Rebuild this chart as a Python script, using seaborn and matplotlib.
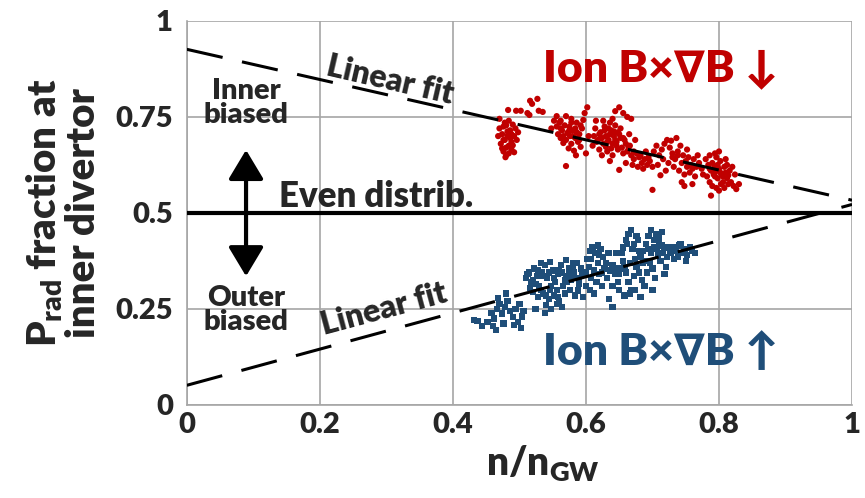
import pandas as pd
import seaborn as sns
import matplotlib.pyplot as plt

# Ion BxgradB down (red cloud)
red_n = [
    0.470, 0.474, 0.478, 0.472, 0.480, 0.476, 0.484, 0.488, 0.482, 0.486, 0.490, 0.494, 0.478, 0.470,
    0.484, 0.492, 0.496, 0.488, 0.480, 0.474, 0.490, 0.498, 0.468, 0.476, 0.486, 0.482, 0.492, 0.479,
    0.483, 0.495, 0.502, 0.516, 0.519, 0.527, 0.529, 0.535, 0.512, 0.515,
    0.552, 0.556, 0.560, 0.564, 0.568, 0.572, 0.558, 0.562, 0.570, 0.576, 0.580, 0.584, 0.588, 0.578,
    0.566, 0.574, 0.582, 0.590, 0.594, 0.586, 0.578, 0.570, 0.598, 0.602, 0.596, 0.604, 0.592, 0.556,
    0.548, 0.585, 0.600, 0.570, 0.562, 0.575, 0.590,
    0.612, 0.618, 0.622, 0.626, 0.630, 0.634, 0.638, 0.642, 0.646, 0.650, 0.628, 0.636, 0.644, 0.652,
    0.656, 0.660, 0.664, 0.620, 0.632, 0.640, 0.648, 0.656, 0.662, 0.668, 0.672, 0.676, 0.680, 0.684,
    0.688, 0.692, 0.670, 0.678, 0.686, 0.696, 0.700, 0.644, 0.650, 0.656, 0.662, 0.668, 0.640, 0.615,
    0.624, 0.636, 0.660, 0.610, 0.650, 0.665, 0.674, 0.690,
    0.702, 0.706, 0.710, 0.714, 0.718, 0.722, 0.726, 0.730, 0.734, 0.738, 0.742, 0.746, 0.750, 0.754,
    0.758, 0.762, 0.766, 0.770, 0.774, 0.716, 0.724, 0.732, 0.740, 0.748, 0.756, 0.764, 0.744, 0.748,
    0.760, 0.708, 0.720, 0.712, 0.700, 0.728, 0.736, 0.752, 0.768, 0.776,
    0.780, 0.784, 0.786, 0.788, 0.790, 0.792, 0.794, 0.796, 0.798, 0.800, 0.802, 0.804, 0.806, 0.808,
    0.810, 0.812, 0.814, 0.816, 0.782, 0.786, 0.790, 0.796, 0.800, 0.808, 0.818, 0.822, 0.826, 0.830,
    0.794, 0.800, 0.810, 0.820, 0.824, 0.788, 0.803, 0.795, 0.812,
    0.614, 0.620, 0.624, 0.628, 0.632, 0.636, 0.640, 0.644, 0.648, 0.652, 0.626, 0.634, 0.642, 0.616,
    0.630, 0.638, 0.646, 0.654, 0.658, 0.666, 0.672, 0.682, 0.694, 0.562, 0.566, 0.574, 0.580, 0.586,
    0.592, 0.568, 0.578, 0.584, 0.730, 0.738, 0.744, 0.752, 0.760, 0.794, 0.798, 0.806, 0.814, 0.802,
    0.786, 0.476, 0.484, 0.480, 0.488,
]
red_frac = [
    0.720, 0.705, 0.690, 0.680, 0.670, 0.660, 0.655, 0.665, 0.700, 0.715, 0.730, 0.720, 0.735, 0.745,
    0.740, 0.700, 0.690, 0.685, 0.650, 0.668, 0.676, 0.710, 0.700, 0.725, 0.695, 0.712, 0.658, 0.645,
    0.768, 0.766, 0.766, 0.792, 0.784, 0.797, 0.766, 0.763, 0.760, 0.755,
    0.740, 0.725, 0.735, 0.715, 0.728, 0.708, 0.705, 0.695, 0.690, 0.700, 0.715, 0.695, 0.685, 0.680,
    0.682, 0.668, 0.662, 0.705, 0.720, 0.735, 0.745, 0.752, 0.760, 0.775, 0.742, 0.700, 0.672, 0.752,
    0.720, 0.650, 0.655, 0.622, 0.740, 0.724, 0.690,
    0.700, 0.690, 0.710, 0.680, 0.700, 0.690, 0.715, 0.700, 0.685, 0.705, 0.725, 0.735, 0.728, 0.720,
    0.695, 0.680, 0.670, 0.665, 0.660, 0.650, 0.665, 0.655, 0.660, 0.650, 0.640, 0.655, 0.645, 0.630,
    0.640, 0.625, 0.625, 0.620, 0.615, 0.635, 0.620, 0.765, 0.775, 0.760, 0.750, 0.745, 0.745, 0.740,
    0.650, 0.635, 0.630, 0.675, 0.612, 0.705, 0.690, 0.660,
    0.660, 0.675, 0.650, 0.665, 0.680, 0.690, 0.670, 0.655, 0.640, 0.660, 0.675, 0.650, 0.635, 0.645,
    0.625, 0.640, 0.620, 0.630, 0.615, 0.640, 0.630, 0.620, 0.610, 0.600, 0.605, 0.595, 0.580, 0.570,
    0.575, 0.625, 0.610, 0.598, 0.560, 0.688, 0.695, 0.665, 0.650, 0.600,
    0.640, 0.625, 0.650, 0.610, 0.630, 0.600, 0.620, 0.645, 0.590, 0.615, 0.635, 0.600, 0.580, 0.620,
    0.605, 0.590, 0.575, 0.610, 0.595, 0.580, 0.570, 0.565, 0.558, 0.565, 0.580, 0.570, 0.562, 0.575,
    0.655, 0.660, 0.640, 0.620, 0.600, 0.545, 0.575, 0.608, 0.625,
    0.720, 0.705, 0.695, 0.715, 0.685, 0.705, 0.680, 0.690, 0.710, 0.695, 0.740, 0.720, 0.712, 0.685,
    0.672, 0.668, 0.675, 0.670, 0.690, 0.675, 0.660, 0.650, 0.645, 0.720, 0.700, 0.712, 0.700, 0.710,
    0.728, 0.690, 0.735, 0.720, 0.645, 0.650, 0.630, 0.620, 0.615, 0.595, 0.625, 0.595, 0.598, 0.605,
    0.615, 0.690, 0.675, 0.728, 0.705,
]

# Ion BxgradB up (blue cloud)
blue_n = [
    0.432, 0.437, 0.444, 0.452, 0.458, 0.462, 0.466, 0.470, 0.474, 0.478, 0.482, 0.486, 0.490, 0.494,
    0.498, 0.502, 0.504, 0.492, 0.476, 0.465, 0.480, 0.468, 0.500, 0.506, 0.460,
    0.510, 0.514, 0.518, 0.522, 0.526, 0.530, 0.534, 0.538, 0.542, 0.546, 0.550, 0.554, 0.558, 0.562,
    0.566, 0.570, 0.574, 0.578, 0.582, 0.586, 0.590, 0.594, 0.520, 0.528, 0.536, 0.544, 0.552, 0.560,
    0.568, 0.576, 0.584, 0.540, 0.548, 0.556, 0.564, 0.532, 0.546, 0.570, 0.580, 0.516, 0.524, 0.588,
    0.596, 0.600, 0.538, 0.556, 0.572,
    0.602, 0.606, 0.610, 0.614, 0.618, 0.622, 0.626, 0.630, 0.604, 0.612, 0.620, 0.628, 0.608, 0.616,
    0.624, 0.632, 0.606, 0.612, 0.600, 0.634, 0.618,
    0.636, 0.640, 0.644, 0.648, 0.652, 0.656, 0.660, 0.664, 0.668, 0.672, 0.676, 0.680, 0.684, 0.688,
    0.692, 0.696, 0.700, 0.704, 0.708, 0.712, 0.716, 0.720, 0.724, 0.728, 0.656, 0.660, 0.664, 0.668,
    0.672, 0.676, 0.680, 0.690, 0.694, 0.698, 0.702, 0.706, 0.710, 0.714, 0.650, 0.658, 0.666, 0.674,
    0.646, 0.640, 0.732, 0.686, 0.718, 0.700, 0.682,
    0.730, 0.735, 0.740, 0.744, 0.748, 0.752, 0.756, 0.760, 0.764, 0.738, 0.750, 0.742,
    0.635, 0.640,
    0.512, 0.520, 0.528, 0.536, 0.544, 0.552, 0.560, 0.568, 0.576, 0.584, 0.592, 0.524, 0.532, 0.548,
    0.564, 0.580, 0.540, 0.558, 0.574, 0.590, 0.642, 0.650, 0.658, 0.666, 0.674, 0.682, 0.690, 0.698,
    0.706, 0.714, 0.722, 0.654, 0.662, 0.670, 0.678, 0.686, 0.694, 0.702, 0.710, 0.718, 0.726, 0.608,
    0.616, 0.624, 0.620,
]
blue_frac = [
    0.222, 0.218, 0.205, 0.215, 0.240, 0.225, 0.250, 0.262, 0.238, 0.255, 0.270, 0.245, 0.228, 0.250,
    0.215, 0.200, 0.230, 0.208, 0.212, 0.195, 0.290, 0.278, 0.262, 0.245, 0.205,
    0.330, 0.345, 0.320, 0.355, 0.335, 0.310, 0.345, 0.365, 0.330, 0.300, 0.350, 0.320, 0.340, 0.365,
    0.310, 0.335, 0.355, 0.325, 0.345, 0.370, 0.315, 0.340, 0.295, 0.280, 0.290, 0.275, 0.285, 0.270,
    0.290, 0.300, 0.285, 0.260, 0.250, 0.262, 0.255, 0.370, 0.372, 0.378, 0.368, 0.305, 0.250, 0.298,
    0.280, 0.310, 0.240, 0.300, 0.320,
    0.380, 0.400, 0.410, 0.395, 0.415, 0.405, 0.385, 0.370, 0.360, 0.350, 0.340, 0.355, 0.330, 0.320,
    0.310, 0.330, 0.300, 0.290, 0.345, 0.395, 0.370,
    0.350, 0.365, 0.340, 0.320, 0.355, 0.375, 0.345, 0.320, 0.300, 0.335, 0.360, 0.345, 0.325, 0.310,
    0.345, 0.370, 0.355, 0.330, 0.390, 0.375, 0.395, 0.360, 0.410, 0.395, 0.410, 0.430, 0.445, 0.455,
    0.420, 0.440, 0.400, 0.420, 0.440, 0.455, 0.430, 0.445, 0.420, 0.450, 0.300, 0.285, 0.290, 0.300,
    0.395, 0.310, 0.380, 0.370, 0.340, 0.300, 0.280,
    0.410, 0.400, 0.415, 0.395, 0.405, 0.390, 0.410, 0.400, 0.395, 0.385, 0.375, 0.420,
    0.275, 0.255,
    0.340, 0.325, 0.350, 0.335, 0.345, 0.330, 0.350, 0.325, 0.340, 0.330, 0.355, 0.315, 0.300, 0.310,
    0.345, 0.355, 0.285, 0.280, 0.345, 0.330, 0.355, 0.340, 0.360, 0.370, 0.380, 0.385, 0.375, 0.395,
    0.405, 0.415, 0.385, 0.395, 0.420, 0.405, 0.430, 0.400, 0.405, 0.410, 0.435, 0.410, 0.400, 0.380,
    0.395, 0.345, 0.390,
]

# linear fits, end values at n/nGW = 0 and 1
fit_n = [0.0, 1.0]
red_fit = [0.926, 0.533]
blue_fit = [0.051, 0.522]

x_ticks = [0, 0.2, 0.4, 0.6, 0.8, 1]
x_labels = ['0', '0.2', '0.4', '0.6', '0.8', '1']
y_ticks = [0, 0.25, 0.5, 0.75, 1]
y_labels = ['0', '0.25', '0.5', '0.75', '1']

RED = '#C00000'
BLUE = '#1F4E79'
GRID = '#A6A6A6'
W = 'heavy'

sns.set_theme(style='whitegrid')
plt.rcParams['font.family'] = ['Lato', 'DejaVu Sans']
plt.rcParams['font.weight'] = W

df = pd.concat([
    pd.DataFrame({'n': red_n, 'frac': red_frac, 'field': 'down'}),
    pd.DataFrame({'n': blue_n, 'frac': blue_frac, 'field': 'up'}),
])

fig = plt.figure(figsize=(8.65, 4.98), dpi=100)
ax = fig.add_axes([0.216, 0.187, 0.769, 0.771])

sns.scatterplot(data=df, x='n', y='frac', hue='field', style='field',
                palette={'down': RED, 'up': BLUE}, markers={'down': 'o', 'up': 's'},
                s=20, linewidth=0, legend=False, ax=ax, zorder=3)

dash = (0, (12, 6.5))
sns.lineplot(x=fit_n, y=red_fit, color='black', lw=2.2, linestyle=dash, ax=ax, zorder=4)
sns.lineplot(x=fit_n, y=blue_fit, color='black', lw=2.2, linestyle=dash, ax=ax, zorder=4)
ax.axhline(0.5, color='black', lw=3, zorder=4)

ax.set_xlim(0, 1)
ax.set_ylim(0, 1)
ax.set_xticks(x_ticks, x_labels, fontsize=21, fontweight=W)
ax.set_yticks(y_ticks, y_labels, fontsize=21, fontweight=W)
ax.grid(True, color=GRID, lw=1.2)
ax.tick_params(axis='y', direction='out', length=7, width=1.2, color=GRID, pad=3)
ax.tick_params(axis='x', direction='out', length=5, width=1.2, color=GRID, pad=0)
for s in ['top', 'right']:
    ax.spines[s].set_visible(False)
for s in ['left', 'bottom']:
    ax.spines[s].set_color(GRID)
    ax.spines[s].set_linewidth(1.2)
for t in ax.yaxis.get_major_ticks():
    if t.get_loc() == 0.5:
        t.tick1line.set_color('black')
        t.tick1line.set_markeredgewidth(3)

ax.set_xlabel('n/n$_\\mathregular{GW}$', fontsize=28, fontweight=W)
ax.xaxis.set_label_coords(0.535, -0.1)
ax.set_ylabel('P$_\\mathregular{rad}$ fraction at\ninner divertor', fontsize=29,
              fontweight=W, linespacing=1.0)
ax.yaxis.set_label_coords(-0.128, 0.5)

ax.text(0.305, 0.846, 'Linear fit', fontsize=23, fontweight=W, rotation=-13,
        ha='center', va='center')
ax.text(0.297, 0.25, 'Linear fit', fontsize=23, fontweight=W, rotation=15,
        ha='center', va='center')
ax.text(0.284, 0.542, 'Even distrib.', fontsize=25, fontweight=W, ha='center', va='center')
ax.text(0.089, 0.786, 'Inner\nbiased', fontsize=21, fontweight=W, ha='center',
        va='center', linespacing=0.9)
ax.text(0.089, 0.247, 'Outer\nbiased', fontsize=21, fontweight=W, ha='center',
        va='center', linespacing=0.9)
ax.text(0.712, 0.876, 'Ion B×∇B ↓', fontsize=32, fontweight=W, color=RED,
        ha='center', va='center')
ax.text(0.712, 0.138, 'Ion B×∇B ↑', fontsize=32, fontweight=W, color=BLUE,
        ha='center', va='center')

arrow = dict(arrowstyle='-|>,head_length=1.0,head_width=0.6', color='black', lw=3,
             shrinkA=0, shrinkB=0, mutation_scale=18)
ax.annotate('', xy=(0.089, 0.664), xytext=(0.089, 0.5), arrowprops=arrow, zorder=5)
ax.annotate('', xy=(0.089, 0.335), xytext=(0.089, 0.5), arrowprops=arrow, zorder=5)

fig.savefig('out.png', dpi=100)
